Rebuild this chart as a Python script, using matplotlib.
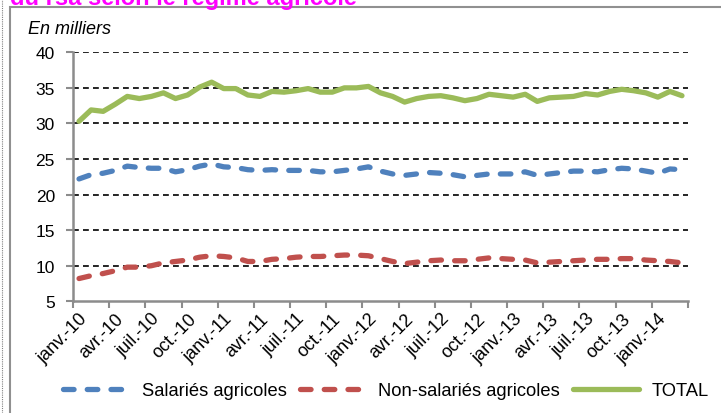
import matplotlib
matplotlib.use("Agg")
import matplotlib.pyplot as plt
from matplotlib.lines import Line2D
from matplotlib.patches import Rectangle

plt.rcParams['font.family'] = ['Liberation Sans', 'DejaVu Sans']

# monthly values, janv.-10 .. mars-14 (thousands)
salaries = [22.2, 22.8, 23.0, 23.4, 24.0, 23.8, 23.7, 23.7, 23.2, 23.5,
            24.0, 24.3, 23.9, 23.8, 23.5, 23.4, 23.5, 23.4, 23.4, 23.4,
            23.2, 23.2, 23.4, 23.6, 23.9, 23.3, 22.9, 22.7, 22.9, 23.1,
            23.0, 22.8, 22.5, 22.7, 22.9, 22.9, 22.9, 23.2, 22.7, 22.9,
            23.1, 23.3, 23.3, 23.2, 23.5, 23.7, 23.6, 23.3, 23.0, 23.6,
            23.5]
non_salaries = [8.2, 8.6, 8.9, 9.3, 9.8, 9.8, 10.0, 10.4, 10.6, 10.8,
                11.2, 11.4, 11.3, 11.1, 10.6, 10.6, 10.9, 11.0, 11.2, 11.3,
                11.3, 11.4, 11.5, 11.5, 11.4, 11.0, 10.6, 10.3, 10.5, 10.7,
                10.8, 10.7, 10.7, 10.9, 11.1, 11.0, 10.9, 10.8, 10.4, 10.5,
                10.6, 10.7, 10.8, 10.9, 10.9, 11.0, 11.0, 10.8, 10.7, 10.6,
                10.4]
total = [30.3, 31.9, 31.7, 32.7, 33.8, 33.5, 33.8, 34.3, 33.5, 34.0,
         35.1, 35.8, 34.9, 34.9, 34.0, 33.8, 34.5, 34.4, 34.6, 34.9,
         34.4, 34.4, 35.0, 35.0, 35.2, 34.3, 33.8, 33.0, 33.5, 33.8,
         33.9, 33.6, 33.2, 33.5, 34.1, 33.9, 33.7, 34.1, 33.1, 33.6,
         33.7, 33.8, 34.2, 34.0, 34.5, 34.8, 34.6, 34.3, 33.7, 34.5,
         33.9]
tick_labels = ['janv.-10', 'avr.-10', 'juil.-10', 'oct.-10',
               'janv.-11', 'avr.-11', 'juil.-11', 'oct.-11',
               'janv.-12', 'avr.-12', 'juil.-12', 'oct.-12',
               'janv.-13', 'avr.-13', 'juil.-13', 'oct.-13',
               'janv.-14']

blue = '#4F81BD'
red = '#C0504D'
green = '#9BBB59'
axis_grey = '#8C8C8C'

fig = plt.figure(figsize=(7.21, 4.14), dpi=100)
ax = fig.add_axes([73/721, 1-302.3/414, 615/721, 249/414])

n = len(total)
x = [i + 0.5 for i in range(n)]

ax.plot(x, salaries, color=blue, lw=3.8, dashes=(2, 2.5),
        dash_capstyle='round', solid_capstyle='round', label='Salariés agricoles')
ax.plot(x, non_salaries, color=red, lw=3.8, dashes=(2, 2.5),
        dash_capstyle='round', solid_capstyle='round', label='Non-salariés agricoles')
ax.plot(x, total, color=green, lw=3.8, solid_capstyle='round',
        solid_joinstyle='round', label='TOTAL')

ax.set_xlim(0, n)
ax.set_ylim(5, 40)
ax.set_yticks(range(5, 41, 5))
ax.set_xticks(range(0, n + 1, 3))
ax.set_xticklabels([])
ax.set_xticks([i + 0.5 for i in range(0, n, 3)], minor=True)
ax.set_xticklabels(tick_labels, minor=True, rotation=45, ha='right',
                   rotation_mode='anchor', fontsize=13)
ax.tick_params(axis='x', which='minor', length=0, pad=6)
ax.tick_params(axis='x', which='major', length=5, width=1.5, color=axis_grey)
ax.tick_params(axis='y', length=5, width=1.5, color=axis_grey, labelsize=12.5, pad=8)

for v in range(10, 41, 5):
    ax.axhline(v, color='black', lw=1.2, ls=(0, (3.5, 2.5)), zorder=0)

for s in ['top', 'right']:
    ax.spines[s].set_visible(False)
for s in ['left', 'bottom']:
    ax.spines[s].set_color(axis_grey)
    ax.spines[s].set_linewidth(1.8)

fig.text(28/721, 1-30/414, 'En milliers', fontsize=13, style='italic',
         va='center', ha='left')

fig.text(10/721, 1-5/414, 'du rsa selon le régime agricole', color='#FF00FF',
         fontsize=17, fontweight='bold', va='baseline', ha='left')

fig.patches.append(Rectangle((10/721, -0.05), 1.0, 1 - 8/414 + 0.05,
                             transform=fig.transFigure, fill=False,
                             edgecolor='#909090', lw=1.5))
fig.lines.append(Line2D([1.5/721, 1.5/721], [0, 1], transform=fig.transFigure,
                        color='#808080', lw=0.8, ls=(0, (1, 1))))

fig.legend(loc='center', bbox_to_anchor=(386/721, 1-392/414), ncol=3,
           frameon=False, fontsize=13.2, handlelength=3.6,
           handletextpad=0.7, columnspacing=0.7)

fig.savefig('out.png', dpi=100)
